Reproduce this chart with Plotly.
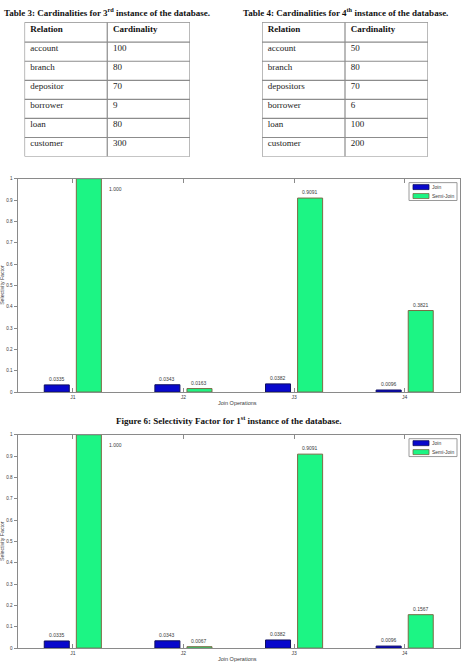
import plotly.graph_objects as go

# ---------------- data ----------------
relations3 = ["account", "branch", "depositor", "borrower", "loan", "customer"]
cardinality3 = ["100", "80", "70", "9", "80", "300"]
relations4 = ["account", "branch", "depositors", "borrower", "loan", "customer"]
cardinality4 = ["50", "80", "70", "6", "100", "200"]
table_headers = ["Relation", "Cardinality"]

categories = ["J1", "J2", "J3", "J4"]
join_fig6 = [0.0335, 0.0343, 0.0382, 0.0096]
semi_fig6 = [1.000, 0.0163, 0.9091, 0.3821]
join_labels_fig6 = ["0.0335", "0.0343", "0.0382", "0.0096"]
semi_labels_fig6 = ["1.000", "0.0163", "0.9091", "0.3821"]

join_fig7 = [0.0335, 0.0343, 0.0382, 0.0096]
semi_fig7 = [1.000, 0.0067, 0.9091, 0.1567]
join_labels_fig7 = ["0.0335", "0.0343", "0.0382", "0.0096"]
semi_labels_fig7 = ["1.000", "0.0067", "0.9091", "0.1567"]

y_ticks = [0, 0.1, 0.2, 0.3, 0.4, 0.5, 0.6, 0.7, 0.8, 0.9, 1]
y_tick_text = ["0", "0.1", "0.2", "0.3", "0.4", "0.5", "0.6", "0.7", "0.8", "0.9", "1"]
series_names = ["Join", "Semi-Join"]

# ---------------- layout helpers ----------------
W, H = 464, 667
def px(x):
    return x / W
def py(y):
    return 1 - y / H

SERIF = "Liberation Serif, Times New Roman, serif"
SANS = "Liberation Sans, Arial, sans-serif"
TXT = "#3a3a3a"
AX = "#8a8a8a"
TBL_LINE = "#8c8c8c"
BLUE = "#0808CC"
BLUE_EDGE = "#101060"
GREEN = "#1CF584"
GREEN_EDGE = "#7a6b45"

fig = go.Figure()
annotations = []
shapes = []
layout_axes = {}

# ---------------- tables (drawn on their own hidden axes) ----------------
HEADER_H = 20.0
ROW_H = 19.2
TEXT_LIFT = 3.0
PAD = 0.07  # in column units

def add_table(rel, card, xname, yname, x0, x1, y0):
    n = len(rel)
    total = HEADER_H + n * ROW_H
    xa = "x" + xname[5:]
    ya = "y" + yname[5:]
    layout_axes[xname] = dict(domain=[px(x0), px(x1)], range=[0, 2], visible=False,
                              anchor=ya, fixedrange=True)
    layout_axes[yname] = dict(domain=[py(y0 + total), py(y0)], range=[total, 0],
                              visible=False, anchor=xa, fixedrange=True)
    bounds = [0, HEADER_H] + [HEADER_H + (k + 1) * ROW_H for k in range(n)]
    for b in bounds:
        shapes.append(dict(type="line", xref=xa, yref=ya, x0=0, x1=2, y0=b, y1=b,
                           line=dict(color=TBL_LINE, width=1.2), layer="above"))
    for xv in [0, 1, 2]:
        shapes.append(dict(type="line", xref=xa, yref=ya, x0=xv, x1=xv, y0=0, y1=total,
                           line=dict(color=TBL_LINE, width=1.2), layer="above"))
    fig.add_trace(go.Scatter(x=[PAD, 1 + PAD], y=[HEADER_H / 2 - TEXT_LIFT] * 2,
                             text=["<b>%s</b>" % h for h in table_headers],
                             mode="text", textposition="middle right",
                             textfont=dict(family=SERIF, size=9, color="#111"),
                             xaxis=xa, yaxis=ya, hoverinfo="skip", showlegend=False,
                             cliponaxis=False))
    centers = [HEADER_H + (k + 0.5) * ROW_H - TEXT_LIFT for k in range(n)]
    fig.add_trace(go.Scatter(x=[PAD] * n, y=centers, text=rel,
                             mode="text", textposition="middle right",
                             textfont=dict(family=SERIF, size=9, color="#222"),
                             xaxis=xa, yaxis=ya, hoverinfo="skip", showlegend=False,
                             cliponaxis=False))
    fig.add_trace(go.Scatter(x=[1 + PAD] * n, y=centers, text=card,
                             mode="text", textposition="middle right",
                             textfont=dict(family=SERIF, size=9, color="#222"),
                             xaxis=xa, yaxis=ya, hoverinfo="skip", showlegend=False,
                             cliponaxis=False))

add_table(relations3, cardinality3, "xaxis3", "yaxis5", 24.5, 190, 20.5)
add_table(relations4, cardinality4, "xaxis4", "yaxis6", 262, 428, 20.5)

annotations.append(dict(x=px(107), y=py(10), xref="paper", yref="paper",
                        text="<b>Table 3: Cardinalities for 3<sup>rd</sup> instance of the database.</b>",
                        showarrow=False, font=dict(family=SERIF, size=9, color="#111"),
                        xanchor="center", yanchor="middle"))
annotations.append(dict(x=px(345), y=py(10), xref="paper", yref="paper",
                        text="<b>Table 4: Cardinalities for 4<sup>th</sup> instance of the database.</b>",
                        showarrow=False, font=dict(family=SERIF, size=9, color="#111"),
                        xanchor="center", yanchor="middle"))
annotations.append(dict(x=px(229), y=py(421), xref="paper", yref="paper",
                        text="<b>Figure 6: Selectivity Factor for 1<sup>st</sup> instance of the database.</b>",
                        showarrow=False, font=dict(family=SERIF, size=9, color="#111"),
                        xanchor="center", yanchor="middle"))

# ---------------- bar charts ----------------
PLOT_X0, PLOT_X1 = 17.5, 460
charts = [
    dict(top=178, bottom=393, join=join_fig6, semi=semi_fig6,
         jl=join_labels_fig6, sl=semi_labels_fig6, xa="x", ya="y"),
    dict(top=436, bottom=651, join=join_fig7, semi=semi_fig7,
         jl=join_labels_fig7, sl=semi_labels_fig7, xa="x2", ya="y2"),
]

BARGAP = 0.42
BARGROUPGAP = 0.22
half_group = (1 - BARGAP) / 2
bar_w = half_group * (1 - BARGROUPGAP)
off = half_group / 2

for k, c in enumerate(charts):
    fig.add_trace(go.Bar(x=categories, y=c["join"], name=series_names[0],
                         marker=dict(color=BLUE, line=dict(color=BLUE_EDGE, width=1)),
                         xaxis=c["xa"], yaxis=c["ya"], showlegend=False))
    fig.add_trace(go.Bar(x=categories, y=c["semi"], name=series_names[1],
                         marker=dict(color=GREEN, line=dict(color=GREEN_EDGE, width=1)),
                         xaxis=c["xa"], yaxis=c["ya"], showlegend=False))
    xref, yref = c["xa"], c["ya"]
    for i in range(len(categories)):
        annotations.append(dict(x=i - off, y=c["join"][i], xref=xref, yref=yref,
                                text=c["jl"][i], showarrow=False, xanchor="center",
                                yanchor="bottom", yshift=1,
                                font=dict(family=SANS, size=5, color=TXT)))
        v = c["semi"][i]
        if v >= 0.97:
            annotations.append(dict(x=i + off + bar_w / 2, y=v, xref=xref, yref=yref,
                                    text=c["sl"][i], showarrow=False, xanchor="left",
                                    yanchor="top", xshift=6, yshift=-5,
                                    font=dict(family=SANS, size=5, color=TXT)))
        else:
            annotations.append(dict(x=i + off, y=v, xref=xref, yref=yref,
                                    text=c["sl"][i], showarrow=False, xanchor="center",
                                    yanchor="bottom", yshift=1,
                                    font=dict(family=SANS, size=5, color=TXT)))
    annotations.append(dict(x=px(2.5), y=py((c["top"] + c["bottom"]) / 2), xref="paper", yref="paper",
                            text="Selectivity Factor", textangle=-90, showarrow=False,
                            xanchor="center", yanchor="middle", borderpad=0,
                            font=dict(family=SANS, size=5.2, color=TXT)))
    annotations.append(dict(x=px(237), y=py(c["bottom"] + 11), xref="paper", yref="paper",
                            text="Join Operations", showarrow=False,
                            xanchor="center", yanchor="middle",
                            font=dict(family=SANS, size=5.5, color=TXT)))
    dx = f"{xref} domain"
    dy = f"{yref} domain"
    h = c["bottom"] - c["top"]
    wdt = PLOT_X1 - PLOT_X0
    fx = lambda p: (p - PLOT_X0) / wdt
    fy = lambda d: 1 - d / h
    shapes.append(dict(type="rect", xref=dx, yref=dy, x0=fx(409), x1=fx(457), y0=fy(22), y1=fy(4),
                       line=dict(color="#9a9a9a", width=1), fillcolor="white"))
    shapes.append(dict(type="rect", xref=dx, yref=dy, x0=fx(413), x1=fx(429), y0=fy(11), y1=fy(6),
                       line=dict(color=BLUE_EDGE, width=0.8), fillcolor=BLUE))
    shapes.append(dict(type="rect", xref=dx, yref=dy, x0=fx(413), x1=fx(429), y0=fy(20), y1=fy(15),
                       line=dict(color=GREEN_EDGE, width=0.8), fillcolor=GREEN))
    annotations.append(dict(x=fx(430), y=fy(8.5), xref=dx, yref=dy, text=series_names[0],
                            showarrow=False, xanchor="left", yanchor="middle",
                            font=dict(family=SANS, size=5, color=TXT)))
    annotations.append(dict(x=fx(430), y=fy(17.5), xref=dx, yref=dy, text=series_names[1],
                            showarrow=False, xanchor="left", yanchor="middle",
                            font=dict(family=SANS, size=5, color=TXT)))

xdom = [px(PLOT_X0), px(PLOT_X1)]
common_x = dict(domain=xdom, showline=True, linecolor=AX, linewidth=1, mirror="ticks",
                ticks="inside", ticklen=4, tickcolor=AX, showgrid=False, zeroline=False,
                tickfont=dict(family=SANS, size=5, color=TXT), range=[-0.5, 3.5],
                type="category", fixedrange=True)
common_y = dict(showline=True, linecolor=AX, linewidth=1, mirror=True,
                ticks="outside", ticklen=3, tickcolor=AX, showgrid=False, zeroline=False,
                tickvals=y_ticks, ticktext=y_tick_text, range=[0, 1],
                tickfont=dict(family=SANS, size=4.6, color=TXT), fixedrange=True)
right_y = dict(side="right", showline=False, ticks="inside", ticklen=4, tickcolor=AX,
               tickvals=y_ticks, showticklabels=False, range=[0, 1], showgrid=False,
               zeroline=False, fixedrange=True)

fig.update_layout(
    width=W, height=H, autosize=False,
    margin=dict(l=0, r=0, t=0, b=0),
    paper_bgcolor="white", plot_bgcolor="white",
    barmode="group", bargap=BARGAP, bargroupgap=BARGROUPGAP,
    xaxis=dict(common_x, anchor="y"),
    yaxis=dict(common_y, anchor="x", domain=[py(charts[0]["bottom"]), py(charts[0]["top"])]),
    xaxis2=dict(common_x, anchor="y2"),
    yaxis2=dict(common_y, anchor="x2", domain=[py(charts[1]["bottom"]), py(charts[1]["top"])]),
    yaxis3=dict(right_y, overlaying="y", anchor="x"),
    yaxis4=dict(right_y, overlaying="y2", anchor="x2"),
    annotations=annotations,
    shapes=shapes,
    showlegend=False,
)
fig.update_layout(**layout_axes)

fig.write_html("out.html", config={"displayModeBar": False},
               post_script="document.body.style.margin='0';document.body.style.overflow='hidden';")
